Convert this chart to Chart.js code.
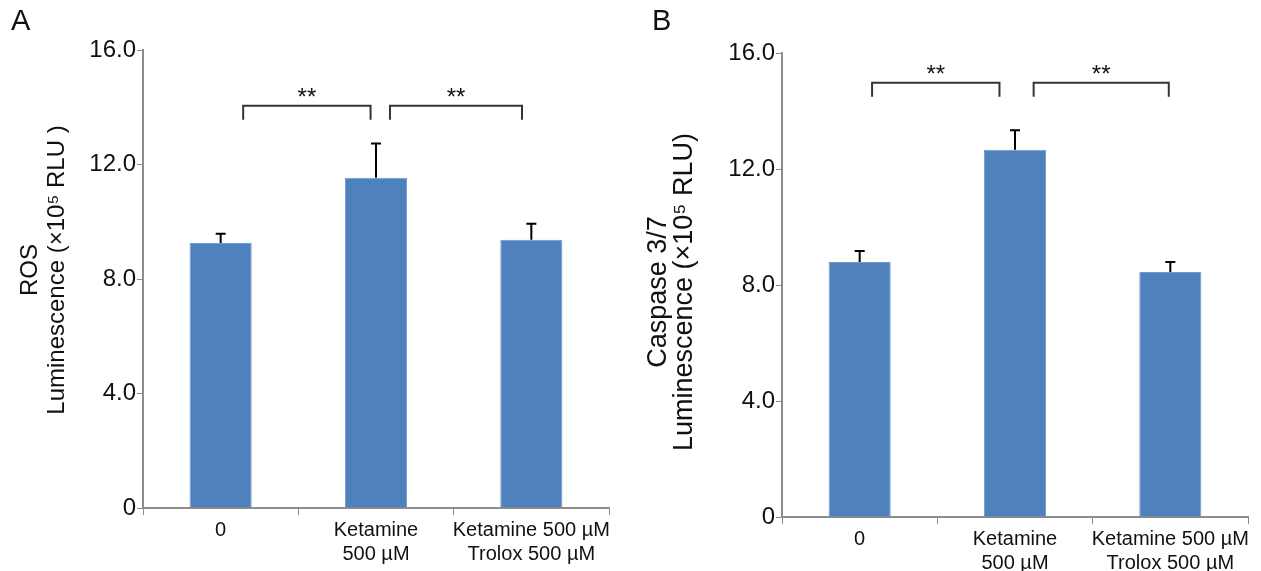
<!DOCTYPE html>
<html>
<head>
<meta charset="utf-8">
<script src="https://cdn.jsdelivr.net/npm/chart.js@4/dist/chart.umd.min.js"></script>
<style>
  body { margin: 0; background: #fff; }
  .panel { position: absolute; top: 0; }
  .tag { position: absolute; top: 4px; font: 29px "Liberation Sans", Arial, sans-serif; color: #111; }
</style>
</head>
<body>
<div class="panel" style="left:0"><canvas id="chartA" width="630" height="571"></canvas></div>
<div class="panel" style="left:630px"><canvas id="chartB" width="631" height="571"></canvas></div>
<div class="tag" style="left:11px">A</div>
<div class="tag" style="left:652px">B</div>
<script>
// data (x10^5 RLU)
const categories = ['0', ['Ketamine', '500 µM'], ['Ketamine 500 µM', 'Trolox 500 µM']];
const rosValues = [9.26, 11.54, 9.37];
const rosErrors = [0.32, 1.19, 0.56];
const caspValues = [8.79, 12.66, 8.45];
const caspErrors = [0.38, 0.68, 0.34];
const yTicks = [0, 4, 8, 12, 16];

// significance brackets: category index span and level in data units
const rosBrackets = [
  { x0: 0.145, x1: 0.965, y: 14.05, text: '**' },
  { x0: 1.09, x1: 1.94, y: 14.05, text: '**' }
];
const caspBrackets = [
  { x0: 0.08, x1: 0.90, y: 14.97, text: '**' },
  { x0: 1.12, x1: 1.99, y: 14.97, text: '**' }
];

const FONT = '"Liberation Sans", Arial, sans-serif';
Chart.defaults.font.family = FONT;
Chart.defaults.color = '#111';

// draws the up-only error bars, the ** brackets and the rotated y title
const annotate = {
  id: 'annotate',
  afterDatasetsDraw(chart, args, opts) {
    const ctx = chart.ctx;
    const xs = chart.scales.x, ys = chart.scales.y;
    const meta = chart.getDatasetMeta(0);
    const vals = chart.data.datasets[0].data;
    ctx.save();
    ctx.strokeStyle = '#000';
    ctx.lineWidth = 2;
    meta.data.forEach((bar, i) => {
      const top = ys.getPixelForValue(vals[i] + opts.errors[i]);
      const base = ys.getPixelForValue(vals[i]);
      ctx.beginPath();
      ctx.moveTo(bar.x, base);
      ctx.lineTo(bar.x, top);
      ctx.moveTo(bar.x - 5, top);
      ctx.lineTo(bar.x + 5, top);
      ctx.stroke();
    });
    ctx.strokeStyle = '#3a3232';
    ctx.fillStyle = '#111';
    ctx.font = '24px ' + FONT;
    ctx.textAlign = 'center';
    ctx.textBaseline = 'alphabetic';
    opts.brackets.forEach(b => {
      const l = xs.getPixelForValue(b.x0), r = xs.getPixelForValue(b.x1);
      const y = ys.getPixelForValue(b.y);
      ctx.beginPath();
      ctx.moveTo(l, y + 14);
      ctx.lineTo(l, y);
      ctx.lineTo(r, y);
      ctx.lineTo(r, y + 14);
      ctx.stroke();
      ctx.fillText(b.text, (l + r) / 2, y - 1);
    });

    const t = opts.title;
    ctx.font = t.size + 'px ' + FONT;
    ctx.textBaseline = 'middle';
    t.lines.forEach((line, i) => {
      ctx.save();
      ctx.translate(t.x + i * t.gap, t.cy);
      ctx.rotate(-Math.PI / 2);
      ctx.fillText(line, 0, 0);
      ctx.restore();
    });
    ctx.restore();
  }
};

function makeChart(id, values, errors, brackets, title, pad, yWidth, xHeight) {
  return new Chart(document.getElementById(id), {
    type: 'bar',
    data: {
      labels: categories,
      datasets: [{
        data: values,
        backgroundColor: '#4f81bd',
        borderColor: '#6f9bd3',
        borderWidth: 1,
        barPercentage: 0.4,
        categoryPercentage: 1.0
      }]
    },
    options: {
      responsive: false,
      devicePixelRatio: 1,
      animation: false,
      layout: { padding: pad },
      plugins: {
        legend: { display: false },
        tooltip: { enabled: false },
        annotate: { errors: errors, brackets: brackets, title: title }
      },
      scales: {
        x: {
          grid: { drawOnChartArea: false, color: '#8c8c8c', tickLength: 7, offset: true },
          border: { color: '#8c8c8c', width: 2 },
          ticks: { font: { size: 20 }, padding: 3, maxRotation: 0, autoSkip: false },
          afterFit: s => { s.height = xHeight; }
        },
        y: {
          min: 0,
          max: 16,
          afterBuildTicks: s => { s.ticks = yTicks.map(v => ({ value: v })); },
          grid: { drawOnChartArea: false, color: '#8c8c8c', tickLength: 6 },
          border: { color: '#8c8c8c', width: 2 },
          ticks: {
            font: { size: 24 },
            padding: 1,
            callback: v => v === 0 ? '0' : v.toFixed(1)
          },
          afterFit: s => { s.width = yWidth; }
        }
      }
    },
    plugins: [annotate]
  });
}

makeChart('chartA', rosValues, rosErrors, rosBrackets,
  { lines: ['ROS', 'Luminescence (×10⁵ RLU )'], size: 24, x: 30, gap: 27, cy: 270 },
  { top: 50, right: 21, left: 0, bottom: 0 }, 143, 63);
makeChart('chartB', caspValues, caspErrors, caspBrackets,
  { lines: ['Caspase 3/7', 'Luminescence (×10⁵ RLU)'], size: 27, x: 29, gap: 26, cy: 292 },
  { top: 53, right: 13, left: 0, bottom: 0 }, 152, 54);
</script>
</body>
</html>
